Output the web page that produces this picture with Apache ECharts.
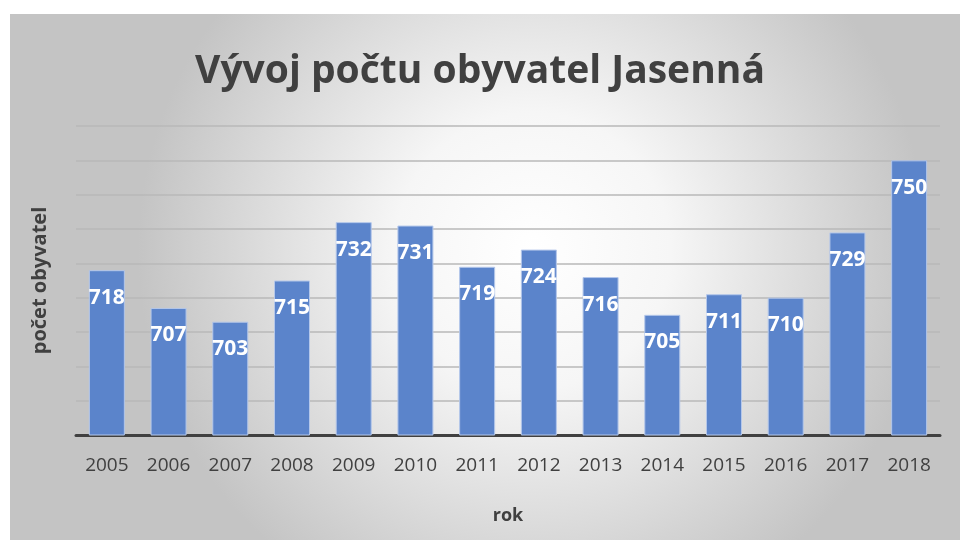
<!DOCTYPE html>
<html>
<head>
<meta charset="utf-8">
<style>
  html, body { margin: 0; padding: 0; background: #fff; }
  #chart { width: 960px; height: 540px; }
</style>
<script src="https://cdn.jsdelivr.net/npm/echarts@6/dist/echarts.min.js"></script>
</head>
<body>
<div id="chart"></div>
<script>
const years = ['2005', '2006', '2007', '2008', '2009', '2010', '2011', '2012', '2013', '2014', '2015', '2016', '2017', '2018'];
const population = [718, 707, 703, 715, 732, 731, 719, 724, 716, 705, 711, 710, 729, 750];
const yMin = 670;
const yMax = 760;
const yStep = 10;

const chart = echarts.init(document.getElementById('chart'));

const font = '"Open Sans", "Noto Sans", sans-serif';

const option = {
  backgroundColor: '#ffffff',
  animation: false,
  graphic: [{
    type: 'rect',
    left: 10,
    top: 14,
    z: -10,
    shape: { width: 950, height: 526 },
    style: {
      fill: {
        type: 'radial',
        x: 0.55, y: 0.45, r: 0.75,
        colorStops: [
          { offset: 0, color: '#ffffff' },
          { offset: 0.35, color: '#f6f6f6' },
          { offset: 1, color: '#c4c4c4' }
        ]
      }
    },
    silent: true
  }],
  title: {
    text: 'Vývoj počtu obyvatel Jasenná',
    left: 'center',
    top: 47,
    textStyle: {
      fontFamily: font,
      fontSize: 39,
      fontWeight: 'bold',
      color: '#404040'
    }
  },
  grid: {
    left: 76,
    right: 20,
    top: 126,
    bottom: 105
  },
  xAxis: {
    type: 'category',
    data: years,
    name: 'rok',
    nameLocation: 'middle',
    nameGap: 72,
    nameTextStyle: {
      fontFamily: font,
      fontSize: 18,
      fontWeight: 'bold',
      color: '#404040'
    },
    axisLine: { lineStyle: { color: '#404040', width: 3 } },
    axisTick: { show: false },
    axisLabel: {
      margin: 21,
      fontFamily: font,
      fontSize: 19,
      color: '#404040'
    }
  },
  yAxis: {
    type: 'value',
    min: yMin,
    max: yMax,
    interval: yStep,
    name: 'počet obyvatel',
    nameLocation: 'middle',
    nameGap: 26,
    nameTextStyle: {
      fontFamily: font,
      fontSize: 20,
      fontWeight: 'bold',
      color: '#404040'
    },
    axisLabel: { show: false },
    axisLine: { show: false },
    axisTick: { show: false },
    splitLine: { lineStyle: { color: '#b8b8b8', width: 1.5 } }
  },
  series: [{
    type: 'bar',
    data: population,
    barWidth: 36,
    itemStyle: {
      color: '#5b84cb',
      borderColor: '#b4c7ea',
      borderWidth: 1
    },
    label: {
      show: true,
      position: 'insideTop',
      distance: 17,
      fontFamily: font,
      fontSize: 21,
      fontWeight: 'bold',
      color: '#ffffff'
    }
  }]
};

chart.setOption(option);

window.addEventListener('resize', () => {
  chart.resize();
});
</script>
</body>
</html>
